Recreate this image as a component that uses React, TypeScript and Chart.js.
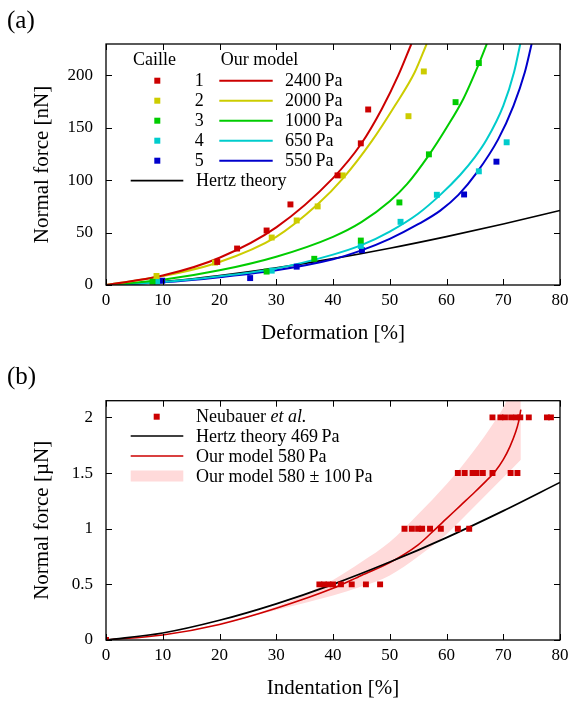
import { useEffect, useRef } from "react";
import { Chart, registerables } from "chart.js";

Chart.register(...registerables);

const SERIF = '"Liberation Serif", "Times New Roman", serif';
const THIN = "\u2009";

// ---------- shared ----------
const X_TICKS = [0, 10, 20, 30, 40, 50, 60, 70, 80];

// ---------- panel (a) ----------
const A_Y_TICKS = [0, 50, 100, 150, 200];
const A_COLORS = ["#cc0000", "#cccc00", "#00cc00", "#00cccc", "#0000cc"];
const A_NUMS = ["1", "2", "3", "4", "5"];
const A_MODEL_LABELS = [
  "2400" + THIN + "Pa",
  "2000" + THIN + "Pa",
  "1000" + THIN + "Pa",
  "650" + THIN + "Pa",
  "550" + THIN + "Pa",
];

const caille1X = [19.6, 23.1, 28.3, 32.5, 40.8, 44.9, 46.2];
const caille1Y = [22.0, 34.8, 52.0, 76.9, 104.6, 135.2, 167.5];
const caille2X = [8.9, 19.2, 29.2, 33.6, 37.3, 41.7, 53.3, 56.0];
const caille2Y = [8.6, 21.4, 45.3, 61.6, 75.0, 104.6, 161.1, 203.8];
const caille3X = [8.2, 28.3, 36.7, 44.9, 51.7, 56.9, 61.6, 65.7];
const caille3Y = [3.2, 12.8, 25.0, 42.4, 78.8, 124.7, 174.5, 211.8];
const caille4X = [9.0, 29.2, 44.9, 51.9, 58.3, 65.7, 70.6];
const caille4Y = [3.2, 13.7, 37.3, 60.3, 86.1, 108.5, 136.2];
const caille5X = [9.9, 25.4, 33.6, 45.1, 63.1, 68.8];
const caille5Y = [4.1, 6.6, 17.5, 33.2, 86.4, 117.7];

const model2400X = [0, 10, 20, 30, 40, 45, 48.6, 51.5, 53.8];
const model2400Y = [0, 9, 26, 55, 102, 135, 168, 200, 230];
const model2000X = [0, 10, 20, 30, 37.3, 41.8, 46.8, 50.9, 54.4, 56.5];
const model2000Y = [0, 8.5, 22, 46, 77, 102, 137, 171, 203, 230];
const model1000X = [0, 10, 20, 30, 40, 45, 50, 53, 56.9, 60, 63, 65.7, 67.1];
const model1000Y = [0, 5, 14, 27, 46, 60, 80, 96, 124, 150, 178, 211, 230];
const model650X = [0, 10, 20, 30, 40, 45, 50, 55, 58.9, 62.4, 65, 67.1, 70, 71.9, 73];
const model650Y = [0, 2.8, 8.4, 15.8, 29, 38, 51, 68, 86, 105, 122, 139, 171, 203, 230];
const model550X = [0, 10, 20, 30, 40, 45, 50, 55, 58.9, 62.1, 65.3, 69.1, 71.8, 73.8, 75];
const model550Y = [0, 2.6, 7.5, 14, 24.5, 33, 44, 58, 71, 86, 107, 139, 171, 203, 230];
const hertzAX = [0, 10, 20, 30, 40, 50, 60, 70, 80];
const hertzAY = [0, 3.1, 8.9, 16.3, 25.1, 35.1, 46.2, 58.2, 71.1];

// ---------- panel (b) ----------
const B_Y_TICKS = [0, 0.5, 1, 1.5, 2];
const B_Y_LABELS = ["0", "0.5", "1", "1.5", "2"];
const B_RED = "#cc0000";
const B_BAND = "rgb(255,218,218)";

const neubauerX = [
  0,
  37.6, 38.4, 39.2, 40.0, 41.4, 43.3, 45.8, 48.3,
  52.6, 53.9, 55.0, 55.7, 57.1, 59.0, 62.0, 64.0,
  62.0, 63.2, 64.6, 65.3, 66.4, 68.1, 71.3, 72.5,
  68.1, 69.5, 70.3, 71.4, 72.3, 73.0, 74.5, 77.7, 78.4,
];
const neubauerY = [
  0,
  0.5, 0.5, 0.5, 0.5, 0.5, 0.5, 0.5, 0.5,
  1, 1, 1, 1, 1, 1, 1, 1,
  1.5, 1.5, 1.5, 1.5, 1.5, 1.5, 1.5, 1.5,
  2, 2, 2, 2, 2, 2, 2, 2, 2,
];
const hertzBX = [0, 10, 20, 30, 40, 50, 60, 70, 80];
const hertzBY = [0, 0.063, 0.177, 0.325, 0.5, 0.7, 0.92, 1.16, 1.416];
const model580X = [0, 10, 20, 30, 40, 45, 50, 55, 57.5, 60, 62.5, 65, 67, 68.5, 70, 71.2, 72.2, 72.7, 73.1];
const model580Y = [0, 0.045, 0.14, 0.285, 0.464, 0.58, 0.695, 0.855, 0.97, 1.09, 1.21, 1.33, 1.43, 1.51, 1.62, 1.74, 1.87, 1.96, 2.07];
const bandUpperX = [0, 10, 20, 30, 40, 45, 50, 55, 60, 63.6, 67.7, 70.6, 73.1];
const bandUpperY = [0, 0.045, 0.15, 0.3, 0.54, 0.7, 0.88, 1.13, 1.4, 1.62, 1.904, 2.15, 2.5];
const bandLowerX = [0, 10, 20, 30, 40, 45, 50, 55, 60, 63, 66.5, 70, 73.1];
const bandLowerY = [0, 0.045, 0.14, 0.27, 0.4, 0.48, 0.58, 0.75, 0.95, 1.1, 1.28, 1.46, 1.62];

const zip = (xs: number[], ys: number[]) => xs.map((x, i) => ({ x, y: ys[i] }));

const framePlugin = {
  id: "frame",
  afterDatasetsDraw(chart: any) {
    const { ctx, chartArea: a, scales } = chart;
    ctx.save();
    ctx.strokeStyle = "#000";
    ctx.lineWidth = 1.3;
    ctx.strokeRect(a.left, a.top, a.right - a.left, a.bottom - a.top);
    const L = 6;
    ctx.lineWidth = 1;
    ctx.beginPath();
    for (const t of scales.x.ticks) {
      const p = Math.round(scales.x.getPixelForValue(t.value)) + 0.5;
      ctx.moveTo(p, a.bottom);
      ctx.lineTo(p, a.bottom - L);
      ctx.moveTo(p, a.top);
      ctx.lineTo(p, a.top + L);
    }
    for (const t of scales.y.ticks) {
      const p = Math.round(scales.y.getPixelForValue(t.value)) + 0.5;
      ctx.moveTo(a.left, p);
      ctx.lineTo(a.left + L, p);
      ctx.moveTo(a.right, p);
      ctx.lineTo(a.right - L, p);
    }
    ctx.stroke();
    ctx.restore();
  },
};

function legendA(chart: any) {
  const ctx = chart.ctx;
  ctx.save();
  ctx.fillStyle = "#000";
  ctx.textBaseline = "middle";
  ctx.font = `18px ${SERIF}`;
  ctx.textAlign = "left";
  ctx.fillText("Caille", 133, 60);
  ctx.fillText("Our model", 220.7, 60);
  for (let i = 0; i < 5; i++) {
    const y = 80.7 + 20 * i;
    ctx.fillStyle = A_COLORS[i];
    ctx.fillRect(157.3 - 3, y - 3, 6, 6);
    ctx.fillStyle = "#000";
    ctx.textAlign = "center";
    ctx.fillText(A_NUMS[i], 199.3, y + 1);
    ctx.strokeStyle = A_COLORS[i];
    ctx.lineWidth = 2;
    ctx.beginPath();
    ctx.moveTo(219.3, y);
    ctx.lineTo(272.7, y);
    ctx.stroke();
    ctx.textAlign = "left";
    ctx.fillText(A_MODEL_LABELS[i], 285, y + 1);
  }
  const yh = 180.7;
  ctx.strokeStyle = "#000";
  ctx.lineWidth = 1.7;
  ctx.beginPath();
  ctx.moveTo(130.7, yh);
  ctx.lineTo(183.3, yh);
  ctx.stroke();
  ctx.fillText("Hertz theory", 196, yh + 1);
  ctx.font = `25px ${SERIF}`;
  ctx.fillText("(a)", 7, 21);
  ctx.restore();
}

function legendB(chart: any) {
  const ctx = chart.ctx;
  ctx.save();
  ctx.fillStyle = "#000";
  ctx.textBaseline = "middle";
  ctx.textAlign = "left";
  const rows = [64.7, 84, 104, 124];
  ctx.fillStyle = B_RED;
  ctx.fillRect(156.7 - 3, rows[0] - 3, 6, 6);
  ctx.fillStyle = "#000";
  ctx.font = `18px ${SERIF}`;
  ctx.fillText("Neubauer ", 196, rows[0] + 1);
  const w = ctx.measureText("Neubauer ").width;
  ctx.font = `italic 18px ${SERIF}`;
  ctx.fillText("et al.", 196 + w, rows[0] + 1);
  ctx.font = `18px ${SERIF}`;
  ctx.strokeStyle = "#000";
  ctx.lineWidth = 1.7;
  ctx.beginPath();
  ctx.moveTo(130.7, rows[1]);
  ctx.lineTo(183.3, rows[1]);
  ctx.stroke();
  ctx.fillText("Hertz theory 469" + THIN + "Pa", 196, rows[1] + 1);
  ctx.strokeStyle = B_RED;
  ctx.lineWidth = 1.6;
  ctx.beginPath();
  ctx.moveTo(130.7, rows[2]);
  ctx.lineTo(183.3, rows[2]);
  ctx.stroke();
  ctx.fillText("Our model 580" + THIN + "Pa", 196, rows[2] + 1);
  ctx.fillStyle = B_BAND;
  ctx.fillRect(130.7, rows[3] - 5.5, 52.6, 11);
  ctx.fillStyle = "#000";
  ctx.fillText("Our model 580 \u00b1 100" + THIN + "Pa", 196, rows[3] + 1);
  ctx.font = `25px ${SERIF}`;
  ctx.fillText("(b)", 7, 25);
  ctx.restore();
}

function makeOptions(p: {
  top: number;
  xHeight: number;
  yMax: number;
  yTicks: number[];
  yLabel: (v: number) => string;
  xTitle: string;
  yTitle: string;
  xTickGap: number;
  xTitlePad: number;
}) {
  return {
    responsive: false,
    animation: false as const,
    devicePixelRatio: 1,
    events: [] as any[],
    layout: { autoPadding: false, padding: { top: p.top, right: 11, left: 0, bottom: 0 } },
    plugins: { legend: { display: false }, tooltip: { enabled: false } },
    scales: {
      x: {
        type: "linear" as const,
        min: 0,
        max: 80,
        afterBuildTicks: (s: any) => {
          s.ticks = X_TICKS.map((v) => ({ value: v }));
        },
        afterFit: (s: any) => {
          s.height = p.xHeight;
        },
        ticks: {
          color: "#000",
          font: { family: SERIF, size: 17 },
          padding: 0,
          maxRotation: 0,
          autoSkip: false,
          callback: (v: any) => String(v),
        },
        grid: { display: false, drawTicks: true, tickLength: p.xTickGap },
        border: { display: false },
        title: {
          display: true,
          text: p.xTitle,
          color: "#000",
          font: { family: SERIF, size: 21 },
          padding: { top: 0, bottom: p.xTitlePad },
        },
      },
      y: {
        type: "linear" as const,
        min: 0,
        max: p.yMax,
        afterBuildTicks: (s: any) => {
          s.ticks = p.yTicks.map((v) => ({ value: v }));
        },
        afterFit: (s: any) => {
          s.width = 106;
        },
        ticks: {
          color: "#000",
          font: { family: SERIF, size: 17 },
          padding: 13,
          autoSkip: false,
          callback: (v: any) => p.yLabel(Number(v)),
        },
        grid: { display: false, drawTicks: false },
        border: { display: false },
        title: {
          display: true,
          text: p.yTitle,
          color: "#000",
          font: { family: SERIF, size: 21 },
          padding: { top: 30, bottom: 0 },
        },
      },
    },
  };
}

const pts = (xs: number[], ys: number[], color: string) => ({
  data: zip(xs, ys),
  showLine: false,
  pointStyle: "rect" as const,
  pointRadius: 4.2,
  pointHoverRadius: 4.2,
  pointBorderWidth: 0,
  pointBackgroundColor: color,
  borderColor: color,
  backgroundColor: color,
});

const curve = (xs: number[], ys: number[], color: string, width: number) => ({
  data: zip(xs, ys),
  borderColor: color,
  borderWidth: width,
  pointRadius: 0,
  pointHoverRadius: 0,
  cubicInterpolationMode: "monotone" as const,
  fill: false,
});

export default function App() {
  const refA = useRef<HTMLCanvasElement | null>(null);
  const refB = useRef<HTMLCanvasElement | null>(null);

  useEffect(() => {
    if (!refA.current || !refB.current) return;

    const chartA = new Chart(refA.current, {
      type: "line",
      data: {
        datasets: [
          pts(caille1X, caille1Y, A_COLORS[0]),
          pts(caille2X, caille2Y, A_COLORS[1]),
          pts(caille3X, caille3Y, A_COLORS[2]),
          pts(caille4X, caille4Y, A_COLORS[3]),
          pts(caille5X, caille5Y, A_COLORS[4]),
          curve(model2400X, model2400Y, A_COLORS[0], 2),
          curve(model2000X, model2000Y, A_COLORS[1], 2),
          curve(model1000X, model1000Y, A_COLORS[2], 2),
          curve(model650X, model650Y, A_COLORS[3], 2),
          curve(model550X, model550Y, A_COLORS[4], 2),
          curve(hertzAX, hertzAY, "#000", 1.7),
        ] as any,
      },
      options: makeOptions({
        top: 44,
        xHeight: 67,
        yMax: 230,
        yTicks: A_Y_TICKS,
        yLabel: (v) => String(v),
        xTitle: "Deformation [%]",
        yTitle: "Normal force [nN]",
        xTickGap: 5,
        xTitlePad: 6.4,
      }) as any,
      plugins: [framePlugin, { id: "legendA", afterDraw: legendA }],
    });

    const chartB = new Chart(refB.current, {
      type: "line",
      data: {
        datasets: [
          pts(neubauerX, neubauerY, B_RED),
          curve(hertzBX, hertzBY, "#000", 1.7),
          curve(model580X, model580Y, B_RED, 1.6),
          {
            data: zip(bandUpperX, bandUpperY),
            borderColor: "rgba(0,0,0,0)",
            borderWidth: 0,
            pointRadius: 0,
            pointHoverRadius: 0,
            cubicInterpolationMode: "monotone",
            fill: "+1",
            backgroundColor: B_BAND,
          },
          {
            data: zip(bandLowerX, bandLowerY),
            borderColor: "rgba(0,0,0,0)",
            borderWidth: 0,
            pointRadius: 0,
            pointHoverRadius: 0,
            cubicInterpolationMode: "monotone",
            fill: false,
          },
        ] as any,
      },
      options: makeOptions({
        top: 48.7,
        xHeight: 64,
        yMax: 2.15,
        yTicks: B_Y_TICKS,
        yLabel: (v) => {
          const i = B_Y_TICKS.indexOf(v);
          return i >= 0 ? B_Y_LABELS[i] : String(v);
        },
        xTitle: "Indentation [%]",
        yTitle: "Normal force [\u00b5N]",
        xTickGap: 5.8,
        xTitlePad: 3.4,
      }) as any,
      plugins: [framePlugin, { id: "legendB", afterDraw: legendB }],
    });

    return () => {
      chartA.destroy();
      chartB.destroy();
    };
  }, []);

  return (
    <div style={{ position: "absolute", left: 0, top: 0, width: 571, height: 704, background: "#fff" }}>
      <canvas
        ref={refA}
        width={571}
        height={352}
        style={{ position: "absolute", left: 0, top: 0, display: "block" }}
      />
      <canvas
        ref={refB}
        width={571}
        height={352}
        style={{ position: "absolute", left: 0, top: 352, display: "block" }}
      />
    </div>
  );
}
